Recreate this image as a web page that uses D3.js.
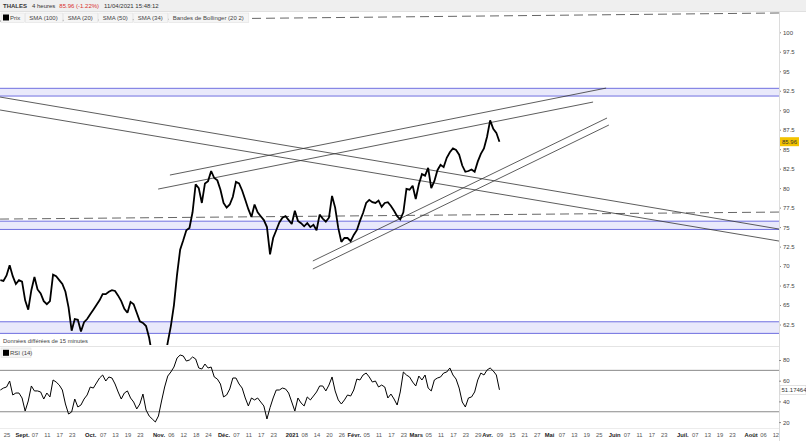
<!DOCTYPE html>
<html>
<head>
<meta charset="utf-8">
<script src="https://cdn.jsdelivr.net/npm/d3@7"></script>
<style>
  body { margin: 0; background: #fff; }
  svg { display: block; font-family: "Liberation Sans", Arial, sans-serif; }
</style>
</head>
<body>
<svg id="chart" width="806" height="441"></svg>
<script>
// Data (one value per trading day, 21/08/2020 -> 09/04/2021)
const firstDay = "2020-08-21";
const lastDay = "2021-08-31";
const holidays = ["2020-12-25", "2021-01-01", "2021-04-02", "2021-04-05"];

const closes = [
  68.2, 68.1, 68.8, 70.1, 68.7, 67.7, 68.2, 68.0, 65.6, 64.4,
  66.9, 68.6, 67.0, 66.5, 65.5, 65.1, 65.5, 68.9, 68.7, 68.2,
  67.7, 66.7, 64.7, 61.7, 63.2, 63.1, 61.6, 62.8, 63.2, 63.8,
  64.4, 65.0, 65.6, 66.4, 66.4, 66.7, 66.9, 66.8, 66.2, 65.5,
  64.5, 64.0, 65.4, 65.1, 64.0, 62.9, 62.7, 62.3, 60.8, 58.5,
  57.5, 57.0, 56.8, 58.0, 60.2, 62.3, 65.0, 68.9, 72.1, 73.3,
  74.6, 74.9, 76.9, 80.5, 80.0, 78.1, 80.6, 80.9, 82.2, 81.3,
  81.0, 79.8, 78.1, 77.5, 77.9, 78.9, 80.8, 80.6, 79.7, 78.5,
  77.3, 76.3, 77.9, 76.9, 76.4, 75.9, 75.0, 71.5, 73.6, 74.6,
  75.6, 76.2, 76.4, 75.9, 75.4, 77.1, 75.8, 75.5, 75.1, 75.5,
  75.0, 75.3, 74.6, 76.6, 76.1, 75.7, 76.2, 79.0, 77.5, 74.9,
  73.1, 73.6, 73.6, 73.2, 74.0, 74.6, 75.8, 76.8, 78.1, 78.5,
  78.2, 78.1, 78.4, 77.6, 78.1, 78.2, 77.7, 77.1, 76.4, 76.0,
  76.9, 79.9, 79.8, 80.3, 78.6, 80.5, 81.8, 81.6, 82.6, 80.0,
  80.9, 82.3, 83.0, 82.7, 83.9, 84.6, 85.1, 84.9, 84.3, 82.9,
  82.1, 82.2, 82.4, 82.1, 83.4, 84.4, 85.1, 86.6, 88.7, 87.6,
  87.1, 85.96
];

const rsiValues = [
  51.0, 52.9, 53.9, 59.7, 46.2, 48.1, 48.1, 43.3, 30.7, 40.4,
  54.9, 50.1, 50.1, 49.1, 42.3, 48.1, 44.3, 60.7, 58.7, 55.8,
  51.0, 37.5, 27.8, 29.8, 42.3, 34.6, 36.5, 42.3, 46.2, 53.9,
  52.9, 57.8, 62.6, 65.5, 59.7, 63.6, 62.6, 56.8, 49.1, 42.3,
  48.1, 50.1, 43.3, 39.4, 32.7, 37.5, 47.1, 31.7, 25.9, 23.0,
  20.1, 25.9, 40.4, 53.9, 64.5, 68.4, 73.2, 81.9, 84.8, 83.9,
  79.0, 80.0, 82.9, 81.0, 72.3, 71.3, 76.1, 72.3, 73.2, 63.6,
  61.6, 56.8, 44.3, 46.2, 52.0, 62.6, 62.6, 56.8, 52.9, 43.3,
  35.6, 43.3, 41.4, 43.3, 39.4, 35.6, 23.0, 34.0, 43.3, 51.0,
  51.0, 52.9, 52.0, 48.1, 39.4, 30.7, 43.3, 38.5, 35.6, 44.3,
  41.4, 45.2, 49.1, 54.9, 54.9, 50.1, 55.8, 63.6, 50.1, 41.4,
  37.5, 41.4, 46.2, 45.2, 51.0, 61.6, 60.7, 65.5, 67.4, 63.6,
  58.7, 59.7, 53.9, 55.8, 53.9, 43.3, 47.1, 42.3, 36.5, 49.1,
  68.4, 65.5, 63.6, 58.7, 54.9, 64.5, 60.7, 65.5, 52.9, 50.1,
  60.7, 62.6, 63.6, 67.4, 68.4, 72.3, 65.5, 61.6, 52.9, 39.4,
  34.6, 43.3, 44.3, 49.1, 60.7, 67.4, 65.5, 70.3, 72.3, 69.4,
  65.5, 51.17
];

const lastPrice = 85.96;
const lastRsi = "51.17464";

// x axis labels: [date, text, month?]
const dateTicks = [
  ["2020-08-25", "25", false], ["2020-09-01", "Sept.", true], ["2020-09-07", "07", false],
  ["2020-09-11", "11", false], ["2020-09-17", "17", false], ["2020-09-23", "23", false],
  ["2020-10-01", "Oct.", true], ["2020-10-07", "07", false], ["2020-10-13", "13", false],
  ["2020-10-19", "19", false], ["2020-10-23", "23", false], ["2020-11-02", "Nov.", true],
  ["2020-11-06", "06", false], ["2020-11-12", "12", false], ["2020-11-18", "18", false],
  ["2020-11-24", "24", false], ["2020-12-01", "Déc.", true], ["2020-12-07", "07", false],
  ["2020-12-11", "11", false], ["2020-12-17", "17", false], ["2020-12-23", "23", false],
  ["2021-01-04", "2021", true], ["2021-01-08", "08", false], ["2021-01-14", "14", false],
  ["2021-01-20", "20", false], ["2021-01-26", "26", false], ["2021-02-01", "Févr.", true],
  ["2021-02-05", "05", false], ["2021-02-11", "11", false], ["2021-02-17", "17", false],
  ["2021-02-23", "23", false], ["2021-03-01", "Mars", true], ["2021-03-05", "05", false],
  ["2021-03-11", "11", false], ["2021-03-17", "17", false], ["2021-03-23", "23", false],
  ["2021-03-29", "29", false], ["2021-04-01", "Avr.", true], ["2021-04-09", "09", false],
  ["2021-04-15", "15", false], ["2021-04-21", "21", false], ["2021-04-27", "27", false],
  ["2021-05-03", "Mai", true], ["2021-05-07", "07", false], ["2021-05-13", "13", false],
  ["2021-05-19", "19", false], ["2021-05-25", "25", false], ["2021-06-01", "Juin", true],
  ["2021-06-07", "07", false], ["2021-06-11", "11", false], ["2021-06-17", "17", false],
  ["2021-06-23", "23", false], ["2021-07-01", "Juil.", true], ["2021-07-07", "07", false],
  ["2021-07-13", "13", false], ["2021-07-19", "19", false], ["2021-07-23", "23", false],
  ["2021-08-02", "Août", true], ["2021-08-06", "06", false], ["2021-08-12", "12", false]
];

const priceTicks = [62.5, 65, 67.5, 70, 72.5, 75, 77.5, 80, 82.5, 85, 87.5, 90, 92.5, 95, 97.5, 100];
const rsiTicks = [20, 40, 60, 80];
const rsiLevels = [30, 70];

// support / resistance zones [low, high]
const zones = [[91.82, 92.81], [74.7, 75.76], [61.36, 62.85]];

// trend lines: start / end as [day index, price]
const dashedLines = [
  [[0.4, 101.45], [251.7, 102.48]],
  [[0.4, 76.03], [251.7, 76.93]]
];
const trendLines = [
  [[0.4, 91.69], [251.7, 74.75]],
  [[0.4, 90.03], [251.7, 73.21]],
  [[55.2, 81.68], [195.9, 92.84]],
  [[51.4, 79.88], [191.7, 91.05]],
  [[101.3, 70.65], [196.2, 89.0]],
  [[101.3, 69.62], [196.8, 88.1]]
];

const legendItems = ["Prix", "SMA (100)", "SMA (20)", "SMA (50)", "SMA (34)", "Bandes de Bollinger (20 2)"];

// trading day calendar
const days = [];
{
  const t = new Date(firstDay + "T00:00:00Z");
  const end = new Date(lastDay + "T00:00:00Z");
  while (t <= end) {
    const iso = t.toISOString().slice(0, 10);
    const wd = t.getUTCDay();
    if (wd !== 0 && wd !== 6 && !holidays.includes(iso)) days.push(iso);
    t.setUTCDate(t.getUTCDate() + 1);
  }
}
const dayIndex = new Map(days.map((d, i) => [d, i]));

// Layout
const plotRight = 779;
const mainTop = 12, mainBottom = 345;
const rsiTop = 347, rsiBottom = 428;

const x = d3.scaleLinear().domain([0, 250]).range([-1.2, 773.8]);
const y = d3.scaleLinear().domain([62.5, 100]).range([324.5, 32.3]);
const yR = d3.scaleLinear().domain([20, 80]).range([422.1, 360]);

const svg = d3.select("#chart");

svg.append("defs").append("clipPath").attr("id", "mainClip")
  .append("rect").attr("x", 0).attr("y", mainTop).attr("width", plotRight).attr("height", mainBottom - mainTop);
svg.select("defs").append("clipPath").attr("id", "rsiClip")
  .append("rect").attr("x", 0).attr("y", rsiTop).attr("width", plotRight).attr("height", rsiBottom - rsiTop);

// header
svg.append("rect").attr("x", 0).attr("y", 0).attr("width", 806).attr("height", 11).attr("fill", "#efefef");
svg.append("line").attr("x1", 0).attr("x2", 806).attr("y1", 11.5).attr("y2", 11.5).attr("stroke", "#e0e0e0");

const header = svg.append("text").attr("x", 3).attr("y", 8).attr("font-size", "6px").attr("fill", "#333");
header.append("tspan").attr("font-weight", "bold").text("THALES");
header.append("tspan").attr("dx", 5).text("4 heures");
header.append("tspan").attr("dx", 4).attr("fill", "#d9302c").text("85.96 (-1.22%)");
header.append("tspan").attr("dx", 5).text("11/04/2021 15:48:12");

// main panel
const main = svg.append("g").attr("clip-path", "url(#mainClip)");

zones.forEach(([lo, hi]) => {
  main.append("rect")
    .attr("x", 0).attr("width", plotRight)
    .attr("y", y(hi)).attr("height", y(lo) - y(hi))
    .attr("fill", "#e9e9fb");
  [lo, hi].forEach(v => {
    main.append("line")
      .attr("x1", 0).attr("x2", plotRight)
      .attr("y1", y(v)).attr("y2", y(v))
      .attr("stroke", "#6f6fe0").attr("stroke-width", 1);
  });
});

dashedLines.forEach(([a, b]) => {
  main.append("line")
    .attr("x1", x(a[0])).attr("y1", y(a[1]))
    .attr("x2", x(b[0])).attr("y2", y(b[1]))
    .attr("stroke", "#666").attr("stroke-width", 1)
    .attr("stroke-dasharray", "9,5");
});

trendLines.forEach(([a, b]) => {
  main.append("line")
    .attr("x1", x(a[0])).attr("y1", y(a[1]))
    .attr("x2", x(b[0])).attr("y2", y(b[1]))
    .attr("stroke", "#333").attr("stroke-width", 0.8);
});

const priceLine = d3.line()
  .x((d, i) => x(i + 0.5))
  .y(d => y(d));

main.append("path")
  .datum(closes)
  .attr("d", priceLine)
  .attr("fill", "none")
  .attr("stroke", "#000")
  .attr("stroke-width", 1.8)
  .attr("stroke-linejoin", "miter")
  .attr("stroke-miterlimit", 2);

// legend boxes
let lx = 1;
legendItems.forEach((name, i) => {
  const g = svg.append("g");
  const t = g.append("text")
    .attr("x", lx + (i === 0 ? 9 : 4)).attr("y", 20)
    .attr("font-size", "6px").attr("fill", "#444")
    .text(name);
  const w = t.node().getComputedTextLength() + (i === 0 ? 13 : 9);
  g.insert("rect", "text")
    .attr("x", lx).attr("y", 13).attr("width", w).attr("height", 9.5)
    .attr("fill", "#f5f5f5").attr("stroke", "#e2e2e2").attr("stroke-width", 0.6);
  if (i === 0) {
    g.append("rect").attr("x", lx + 2).attr("y", 14.5).attr("width", 6).attr("height", 6).attr("fill", "#000");
  }
  lx += w + 1;
});

// right price axis
svg.append("g")
  .attr("transform", `translate(${plotRight},0)`)
  .call(d3.axisRight(y).tickValues(priceTicks).tickSize(2).tickPadding(2).tickFormat(d3.format("~g")))
  .call(g => g.select(".domain").remove())
  .call(g => g.selectAll(".tick line").attr("stroke", "#888"))
  .call(g => g.selectAll("text").attr("font-size", "6px").attr("fill", "#444").attr("font-family", null));

svg.append("line")
  .attr("x1", plotRight + 0.5).attr("x2", plotRight + 0.5)
  .attr("y1", mainTop).attr("y2", 441)
  .attr("stroke", "#dcdcdc");

// last price tag
svg.append("rect")
  .attr("x", plotRight + 1).attr("y", y(lastPrice) - 4.5).attr("width", 19).attr("height", 9)
  .attr("fill", "#f3c300");
svg.append("text")
  .attr("x", plotRight + 3).attr("y", y(lastPrice) + 2.2)
  .attr("font-size", "6px").attr("fill", "#333")
  .text(d3.format(".2f")(lastPrice));

// delay note + separator
svg.append("text").attr("x", 3).attr("y", 343).attr("font-size", "5.8px").attr("fill", "#444")
  .text("Données différées de 15 minutes");
svg.append("line").attr("x1", 0).attr("x2", plotRight).attr("y1", 346.5).attr("y2", 346.5).attr("stroke", "#e4e4e4");

// RSI panel
const rsiG = svg.append("g").attr("clip-path", "url(#rsiClip)");
rsiLevels.forEach(v => {
  rsiG.append("line")
    .attr("x1", 0).attr("x2", plotRight)
    .attr("y1", yR(v)).attr("y2", yR(v))
    .attr("stroke", "#8a8a8a").attr("stroke-width", 1);
});

rsiG.append("path")
  .datum(rsiValues)
  .attr("d", d3.line().x((d, i) => x(i + 0.5)).y(d => yR(d)))
  .attr("fill", "none")
  .attr("stroke", "#000")
  .attr("stroke-width", 1)
  .attr("stroke-linejoin", "round");

const rsiLeg = svg.append("g");
rsiLeg.append("rect").attr("x", 1).attr("y", 348).attr("width", 30).attr("height", 9.5)
  .attr("fill", "#f5f5f5").attr("stroke", "#e2e2e2").attr("stroke-width", 0.6);
rsiLeg.append("rect").attr("x", 3).attr("y", 349.8).attr("width", 6).attr("height", 6).attr("fill", "#000");
rsiLeg.append("text").attr("x", 10).attr("y", 355).attr("font-size", "6px").attr("fill", "#444").text("RSI (14)");

svg.append("g")
  .attr("transform", `translate(${plotRight},0)`)
  .call(d3.axisRight(yR).tickValues(rsiTicks).tickSize(2).tickPadding(2))
  .call(g => g.select(".domain").remove())
  .call(g => g.selectAll(".tick line").attr("stroke", "#888"))
  .call(g => g.selectAll("text").attr("font-size", "6px").attr("fill", "#444").attr("font-family", null));

svg.append("rect")
  .attr("x", plotRight + 1).attr("y", yR(+lastRsi) - 4.5).attr("width", 26).attr("height", 9)
  .attr("fill", "#fff").attr("stroke", "#d0d0d0").attr("stroke-width", 0.6);
svg.append("text")
  .attr("x", plotRight + 2.5).attr("y", yR(+lastRsi) + 2.2)
  .attr("font-size", "6px").attr("fill", "#333")
  .text(lastRsi);

svg.append("line").attr("x1", 0).attr("x2", plotRight).attr("y1", rsiBottom + 0.5).attr("y2", rsiBottom + 0.5).attr("stroke", "#ececec");

// bottom date axis
const tickByIdx = new Map(dateTicks.map(t => [dayIndex.get(t[0]), t]));
svg.append("g")
  .attr("transform", `translate(0,${rsiBottom})`)
  .call(d3.axisBottom(x).tickValues([...tickByIdx.keys()].map(i => i + 0.5)).tickSize(0).tickPadding(5)
    .tickFormat(v => tickByIdx.get(v - 0.5)[1]))
  .call(g => g.select(".domain").remove())
  .call(g => g.selectAll("text")
    .attr("font-size", "5.8px")
    .attr("font-family", null)
    .attr("fill", v => tickByIdx.get(v - 0.5)[2] ? "#222" : "#555")
    .attr("font-weight", v => tickByIdx.get(v - 0.5)[2] ? "bold" : "normal"));
</script>
</body>
</html>
